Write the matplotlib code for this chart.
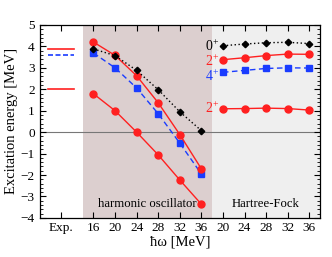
import matplotlib
matplotlib.use("Agg")
import matplotlib.pyplot as plt
from matplotlib.ticker import MultipleLocator

plt.rcParams['font.family'] = ['Liberation Serif', 'DejaVu Serif']
plt.rcParams['mathtext.fontset'] = 'custom'
plt.rcParams['mathtext.rm'] = 'Liberation Serif'
plt.rcParams['mathtext.it'] = 'Liberation Serif:italic'

# hbar*omega values
ho_hw = [16, 20, 24, 28, 32, 36]
hf_hw = [20, 24, 28, 32, 36]

# Experimental levels
exp_0p = 3.89   # red
exp_4p = 3.61   # blue dashed
exp_2p = 2.00   # red

# Harmonic oscillator basis
ho_0p = [3.88, 3.57, 2.88, 1.98, 0.95, 0.07]
ho_2p_b = [4.20, 3.58, 2.63, 1.37, -0.11, -1.71]
ho_4p = [3.69, 3.00, 2.06, 0.86, -0.51, -1.95]
ho_2p_a = [1.79, 1.00, 0.00, -1.06, -2.23, -3.36]

# Hartree-Fock basis
hf_0p = [4.03, 4.11, 4.17, 4.19, 4.13]
hf_2p_b = [3.38, 3.47, 3.57, 3.64, 3.63]
hf_4p = [2.79, 2.88, 2.97, 3.00, 2.99]
hf_2p_a = [1.09, 1.10, 1.12, 1.10, 1.03]

xticklabels = ['Exp.'] + [str(v) for v in ho_hw] + [str(v) for v in hf_hw]

ho_x = [1.5 + i for i in range(len(ho_hw))]
hf_x = [7.5 + i for i in range(len(hf_hw))]

fig = plt.figure(figsize=(3.32, 2.57), dpi=100)
ax = fig.add_axes([0.119, 0.152, 0.845, 0.751])

ax.axvspan(1.0, 7.0, color='#dccfcf', zorder=0, lw=0)
ax.axvspan(7.0, 12.0, color='#efefef', zorder=0, lw=0)
ax.axhline(0, color='#777777', lw=0.8, zorder=1)

red = '#ff2020'
blue = '#1a3cff'

# Exp lines
ax.plot([-0.6, 0.6], [exp_0p, exp_0p], color=red, lw=1.2)
ax.plot([-0.6, 0.6], [exp_4p, exp_4p], color=blue, lw=1.2, ls=(0, (3, 1.5)))
ax.plot([-0.6, 0.6], [exp_2p, exp_2p], color=red, lw=1.2)

for xs, d0, d2b, d4, d2a in [(ho_x, ho_0p, ho_2p_b, ho_4p, ho_2p_a),
                             (hf_x, hf_0p, hf_2p_b, hf_4p, hf_2p_a)]:
    ax.plot(xs, d2a, color=red, lw=1.0, marker='o', ms=5, zorder=3)
    ax.plot(xs, d4, color=blue, lw=1.0, ls=(0, (4, 2.5)), marker='s', ms=4.3, zorder=3)
    ax.plot(xs, d2b, color=red, lw=1.0, marker='o', ms=5, zorder=4)
    ax.plot(xs, d0, color='black', lw=1.0, ls=(0, (1, 1.8)), marker='D', ms=3.3, zorder=5)

tx = 7.3
fs_lab = 10
ax.text(tx, 4.00, r'$0^{+}$', color='black', ha='right', va='center', fontsize=fs_lab)
ax.text(tx, 3.30, r'$2^{+}$', color=red, ha='right', va='center', fontsize=fs_lab)
ax.text(tx, 2.60, r'$4^{+}$', color=blue, ha='right', va='center', fontsize=fs_lab)
ax.text(tx, 1.12, r'$2^{+}$', color=red, ha='right', va='center', fontsize=fs_lab)

ax.text(4.0, -3.35, 'harmonic oscillator', ha='center', va='center', fontsize=9.2)
ax.text(9.5, -3.35, 'Hartree-Fock', ha='center', va='center', fontsize=9.2)

ax.set_xlim(-1, 12)
ax.set_ylim(-4, 5)
ax.set_xticks([0] + ho_x + hf_x)
ax.set_xticklabels(xticklabels)
ax.set_yticks(range(-4, 6))
ax.yaxis.set_minor_locator(MultipleLocator(0.2))
ax.tick_params(axis='both', which='both', direction='in', top=True, right=True, labelsize=9.5)
ax.tick_params(axis='both', which='major', length=4, width=0.8)
ax.tick_params(axis='y', which='minor', length=2, width=0.6)
ax.tick_params(axis='x', pad=3)
for s in ax.spines.values():
    s.set_linewidth(0.9)

ax.set_xlabel('ħω [MeV]', fontsize=10.5, labelpad=1)
ax.set_ylabel('Excitation energy [MeV]', fontsize=10.5, labelpad=2)

fig.savefig('out.png', dpi=100)
